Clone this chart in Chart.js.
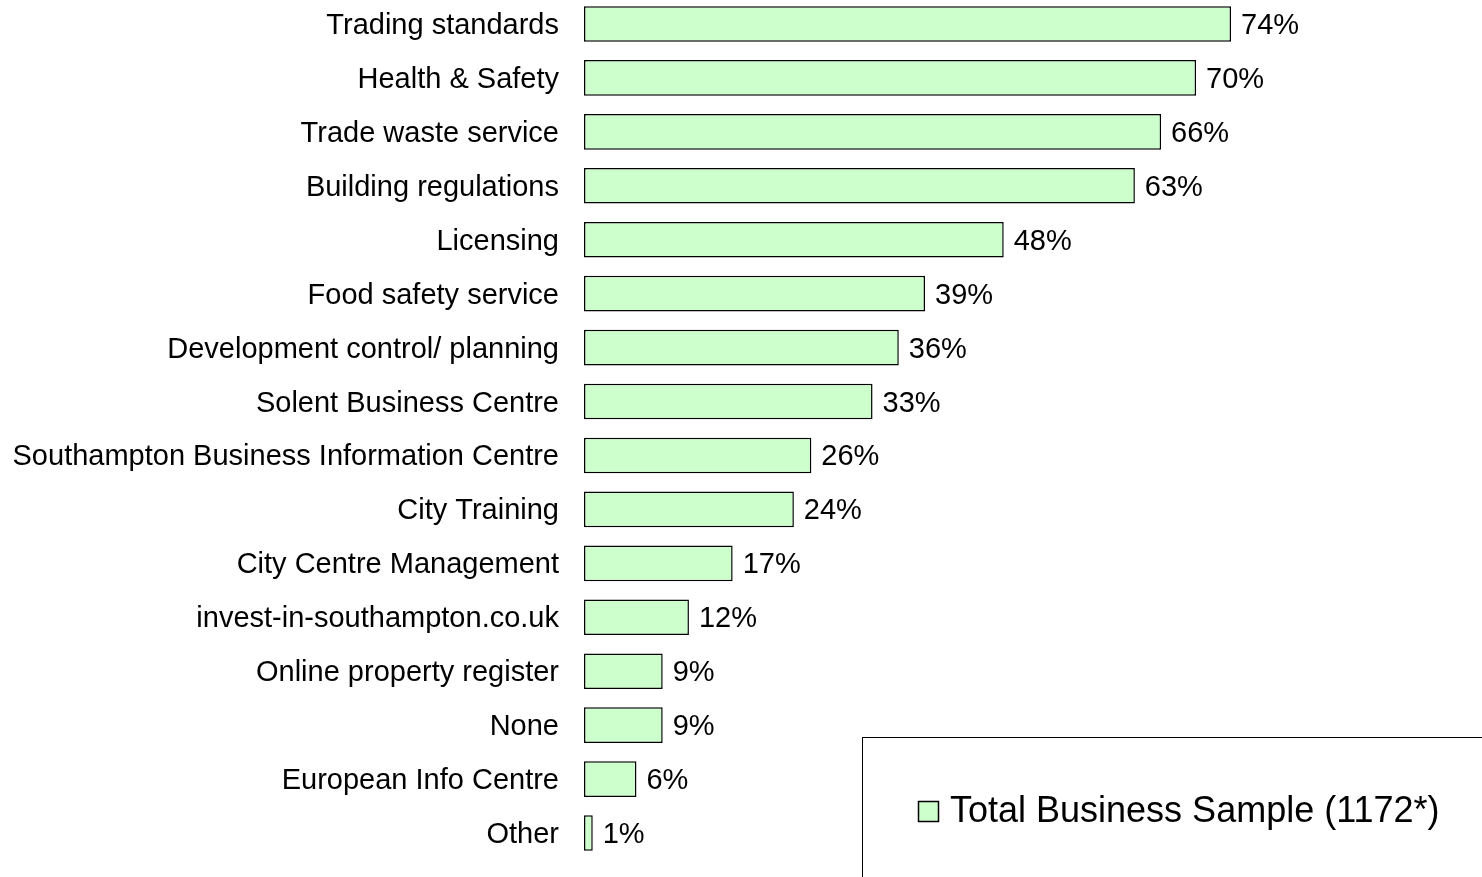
<!DOCTYPE html>
<html lang="en">
<head>
    <meta charset="UTF-8">
    <title>Council services used</title>
    <script src="https://cdn.jsdelivr.net/npm/chart.js"></script>
    <style>
        html, body { margin: 0; padding: 0; background: #fff; overflow: hidden; }
        #wrap { position: absolute; left: 0; top: -3px; width: 1482px; height: 880px; }
    </style>
</head>
<body>
    <div id="wrap"><canvas id="servicesChart"></canvas></div>

    <script>
        // Services used by businesses (% of sample)
        const services = [
            'Trading standards',
            'Health & Safety',
            'Trade waste service',
            'Building regulations',
            'Licensing',
            'Food safety service',
            'Development control/ planning',
            'Solent Business Centre',
            'Southampton Business Information Centre',
            'City Training',
            'City Centre Management',
            'invest-in-southampton.co.uk',
            'Online property register',
            'None',
            'European Info Centre',
            'Other'
        ];
        const totalSample = [74, 70, 66, 63, 48, 39, 36, 33, 26, 24, 17, 12, 9, 9, 6, 1];
        const seriesName = 'Total Business Sample (1172*)';

        const FONT = 'Arial, "Liberation Sans", sans-serif';

        // Percent labels to the right of each bar
        const valueLabels = {
            id: 'valueLabels',
            afterDatasetsDraw(chart) {
                const ctx = chart.ctx;
                const meta = chart.getDatasetMeta(0);
                ctx.save();
                ctx.font = '29px ' + FONT;
                ctx.fillStyle = '#000';
                ctx.textAlign = 'left';
                ctx.textBaseline = 'middle';
                meta.data.forEach((bar, i) => {
                    ctx.fillText(chart.data.datasets[0].data[i] + '%', bar.x + 10, bar.y + 2);
                });
                ctx.restore();
            }
        };

        // Boxed legend in the lower right corner
        const boxLegend = {
            id: 'boxLegend',
            afterDraw(chart) {
                const ctx = chart.ctx;
                const ds = chart.data.datasets[0];
                const top = 740;
                ctx.save();
                ctx.strokeStyle = '#000';
                ctx.lineWidth = 1;
                ctx.strokeRect(862.5, top + 0.5, 700, 200);
                ctx.fillStyle = ds.backgroundColor;
                ctx.fillRect(918, top + 64, 20, 20);
                ctx.lineWidth = 1.5;
                ctx.strokeRect(918.5, top + 64.5, 20, 20);
                ctx.fillStyle = '#000';
                ctx.font = '36px ' + FONT;
                ctx.textBaseline = 'middle';
                ctx.fillText(ds.label, 950, top + 75);
                ctx.restore();
            }
        };

        const ctx = document.getElementById('servicesChart').getContext('2d');
        new Chart(ctx, {
            type: 'bar',
            data: {
                labels: services,
                datasets: [{
                    label: seriesName,
                    data: totalSample,
                    backgroundColor: '#CCFFCC',
                    borderColor: '#000',
                    borderWidth: 1.5,
                    borderSkipped: false,
                    barPercentage: 0.66,
                    categoryPercentage: 1
                }]
            },
            options: {
                indexAxis: 'y',
                responsive: true,
                maintainAspectRatio: false,
                animation: false,
                layout: { padding: { left: 0, right: 0, top: 0, bottom: 17 } },
                plugins: {
                    legend: { display: false },
                    tooltip: { enabled: false }
                },
                scales: {
                    x: {
                        display: false,
                        min: 0,
                        max: 102.7
                    },
                    y: {
                        grid: { display: false },
                        border: { display: false },
                        ticks: {
                            color: '#000',
                            font: { family: FONT, size: 29 },
                            padding: 17,
                            labelOffset: 2
                        },
                        afterFit(scale) {
                            scale.width = 584;
                            scale.paddingTop = 0;
                            scale.paddingBottom = 0;
                        }
                    }
                }
            },
            plugins: [valueLabels, boxLegend]
        });
    </script>
</body>
</html>
